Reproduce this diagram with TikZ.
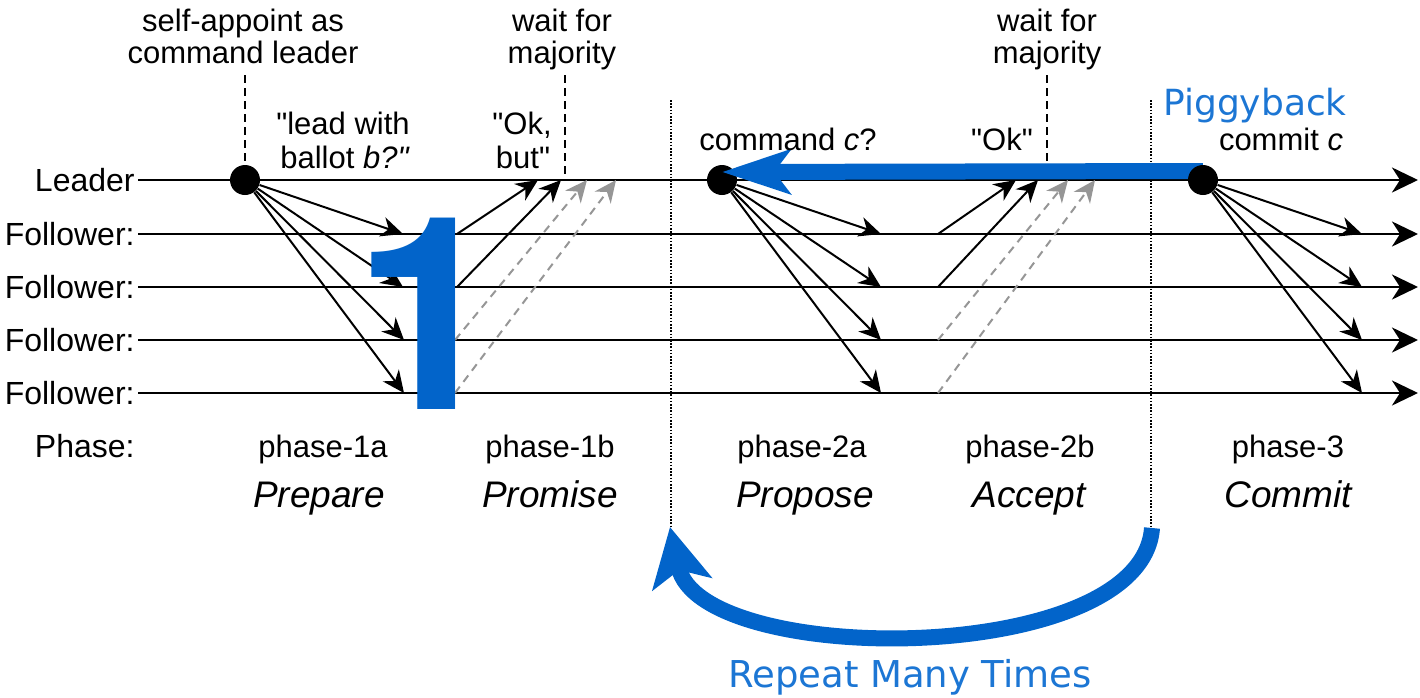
\documentclass[tikz,border=0pt]{standalone}
\usepackage{fontspec}
\setmainfont{Liberation Sans}[Ligatures=TeXOff]
\newfontfamily\vfont{DejaVu Sans}
\newfontfamily\helv{TeX Gyre Heros}
\usetikzlibrary{arrows.meta}
\definecolor{myblue}{RGB}{2,100,202}
\definecolor{pigblue}{RGB}{28,118,212}
\definecolor{dgray}{RGB}{150,150,150}
\begin{document}
\begin{tikzpicture}[x=0.5pt,y=-0.5pt,
  lbl/.style={font=\fontsize{16pt}{18pt}\selectfont, anchor=base east, inner sep=0},
  ann/.style={font=\fontsize{15.5pt}{17pt}\selectfont, anchor=base, inner sep=0},
  phit/.style={font=\fontsize{18.5pt}{20pt}\selectfont\itshape, anchor=base, inner sep=0},
  tline/.style={line width=1.4pt, -{Stealth[length=13pt,width=12.5pt,inset=4pt]}},
  msg/.style={line width=1pt, -{Stealth[length=11pt,width=10pt,inset=3.5pt]}},
  gmsg/.style={msg, draw=dgray, dash pattern=on 4pt off 3pt},
  dotnode/.style={circle, fill=black, inner sep=0, minimum size=15pt},
  vdash/.style={line width=1pt, dash pattern=on 4pt off 2.5pt},
  vdot/.style={line width=0.8pt, dash pattern=on 0.8pt off 0.8pt},
  bigarrow/.style={line width=8pt, draw=myblue},
]
\useasboundingbox (0,0) rectangle (1420,697);

% time lines
\foreach \n/\y/\t in {L/180/Leader, A/234/Follower:, B/287/Follower:, C/340/Follower:, D/393/Follower:} {
  \node[lbl] (lab\n) at (135,\y+11) {\t};
  \coordinate (s\n) at (138,\y);
  \coordinate (e\n) at (1418,\y);
  \draw[tline] (s\n) -- (e\n);
}
\node[lbl] (phlab) at (135,457) {Phase:};

% dotted phase separators
\coordinate (p1t) at (671,100); \coordinate (p1b) at (671,528);
\coordinate (p2t) at (1151,100); \coordinate (p2b) at (1151,528);
\draw[vdot] (p1t) -- (p1b);
\draw[vdot] (p2t) -- (p2b);

% dots
\node[dotnode] (d1) at (245,180) {};
\node[dotnode] (d2) at (722,180) {};

% phase 1a
\foreach \n/\x/\y in {A/403/234, B/403/287, C/404/340, D/404/393} {
  \coordinate (t1\n) at (\x,\y);
  \draw[msg] (d1) -- (t1\n);
}
% phase 1b
\coordinate (r1A) at (457,234); \coordinate (a1A) at (538,180);
\coordinate (r1B) at (457,287); \coordinate (a1B) at (561,180);
\coordinate (r1C) at (455,340); \coordinate (a1C) at (587,180);
\coordinate (r1D) at (455,393); \coordinate (a1D) at (616,180);
\draw[msg] (r1A) -- (a1A);
\draw[msg] (r1B) -- (a1B);
\draw[gmsg] (r1C) -- (a1C);
\draw[gmsg] (r1D) -- (a1D);

% phase 2a
\foreach \n/\y in {A/234, B/287, C/340, D/393} {
  \coordinate (t2\n) at (881,\y);
  \draw[msg] (d2) -- (t2\n);
}
% phase 2b
\coordinate (r2A) at (938,234); \coordinate (a2A) at (1016,180);
\coordinate (r2B) at (938,287); \coordinate (a2B) at (1038,180);
\coordinate (r2C) at (938,340); \coordinate (a2C) at (1068,180);
\coordinate (r2D) at (938,393); \coordinate (a2D) at (1095,180);
\draw[msg] (r2A) -- (a2A);
\draw[msg] (r2B) -- (a2B);
\draw[gmsg] (r2C) -- (a2C);
\draw[gmsg] (r2D) -- (a2D);

% dashed markers
\coordinate (w1) at (245,75);
\coordinate (w2) at (565,75); \coordinate (m2) at (565,180);
\coordinate (w3) at (1047,75); \coordinate (m3) at (1047,180);
\draw[vdash] (w1) -- (d1);
\draw[vdash] (w2) -- (m2);
\draw[vdash] (w3) -- (m3);

% piggyback arrow
\coordinate (pbS) at (1203,171);
\coordinate (pbE) at (722,172);
\draw[bigarrow, -{Stealth[length=34pt,width=22pt,inset=8pt]}] (pbS) -- (pbE);

% phase 3
\node[dotnode] (d3) at (1203,180) {};
\foreach \n/\y in {A/234, B/287, C/340, D/393} {
  \coordinate (t3\n) at (1362,\y);
  \draw[msg] (d3) -- (t3\n);
}

% big 1
\node[anchor=base, inner sep=0, text depth=0pt, text=myblue, font=\helv\fontsize{135pt}{135pt}\selectfont\bfseries] (one) at (429,409) {1};

% repeat arrow
\coordinate (rs) at (1152,528);
\coordinate (rt) at (670,527);
\draw[bigarrow, -{Stealth[length=29pt,width=30pt,inset=7pt]}] (rs) .. controls (1142,668) and (700,668) .. (rt);

% annotations
\node[ann] (sa1) at (243,31) {self-appoint as};
\node[ann] (sa2) at (243,63) {command leader};
\node[ann] (wf1) at (562,31) {wait for};
\node[ann] (wf2) at (562,63) {majority};
\node[ann] (lw1) at (343,134) {"lead with};
\node[ann] (lw2) at (345,168) {ballot \textit{b?"}};
\node[ann] (ok1) at (522,134) {"Ok,};
\node[ann] (ok2) at (523,168) {but"};
\node[ann] (cc) at (788,150) {command \textit{c}?};
\node[ann] (ok3) at (1002,150) {"Ok"};
\node[ann] (wf3) at (1047,31) {wait for};
\node[ann] (wf4) at (1047,63) {majority};
\node[ann] (cm) at (1281,150) {commit \textit{c}};
\node[anchor=base, inner sep=0, text=pigblue, font=\vfont\fontsize{18pt}{20pt}\selectfont] (pig) at (1255,115) {Piggyback};

% phase names
\node[ann] (ph1a) at (323,457) {phase-1a};
\node[ann] (ph1b) at (550,457) {phase-1b};
\node[ann] (ph2a) at (802,457) {phase-2a};
\node[ann] (ph2b) at (1030,457) {phase-2b};
\node[ann] (ph3) at (1288,457) {phase-3};
\node[phit] (n1a) at (319,507) {Prepare};
\node[phit] (n1b) at (550,507) {Promise};
\node[phit] (n2a) at (805,507) {Propose};
\node[phit] (n2b) at (1029,507) {Accept};
\node[phit] (n3) at (1288,507) {Commit};

\node[anchor=base, inner sep=0, text=pigblue, font=\vfont\fontsize{18.5pt}{20pt}\selectfont] (rep) at (910,687) {Repeat Many Times};
\end{tikzpicture}
\end{document}
